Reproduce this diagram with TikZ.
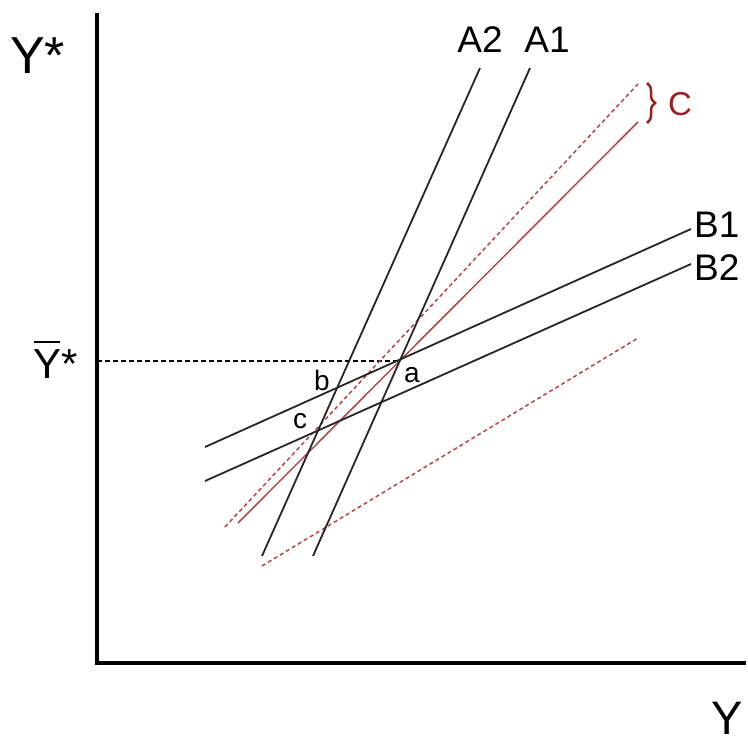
\documentclass[tikz,border=0pt]{standalone}
\usepackage{fontspec}
\setmainfont{Liberation Sans}
\usetikzlibrary{decorations.pathreplacing}
\definecolor{redl}{RGB}{180,70,70}
\definecolor{cred}{RGB}{150,35,35}
\newcommand{\ybarsym}{\makebox[0pt][l]{\hspace{0.02em}\raisebox{0.83em}{\rule{0.62em}{0.05em}}}Y*}
\begin{document}
\begin{tikzpicture}[x=1pt,y=-1pt,
  axis/.style={line width=4pt,line join=miter},
  curve/.style={line width=1.8pt,black!85},
  redsolid/.style={line width=1.5pt,redl},
  reddash/.style={line width=1.5pt,redl,dash pattern=on 4pt off 3pt},
  guide/.style={line width=1.3pt,dash pattern=on 5pt off 3pt},
  big/.style={inner sep=0pt,font=\fontsize{52}{60}\selectfont},
  mid/.style={inner sep=0pt,font=\fontsize{37}{44}\selectfont},
  small/.style={inner sep=0pt,font=\fontsize{28}{34}\selectfont}]
\useasboundingbox (0,0) rectangle (748,742);
% axes
\coordinate (o) at (97,663);
\coordinate (ytop) at (97,13);
\coordinate (xend) at (746,663);
\draw[axis] (ytop) -- (o) -- (xend);
% axis labels
\node[big,anchor=base west] (ylab) at (10,73) {Y*};
\node[big,anchor=base west,font=\fontsize{47}{54}\selectfont] (xlab) at (711,734) {Y};
\node[inner sep=0pt,anchor=base west,font=\fontsize{42}{50}\selectfont] (ybar) at (33,378) {\ybarsym};
% point a and guide
\coordinate (a) at (400,361);
\coordinate (g0) at (97,361);
\draw[guide] (g0) -- (a);
% red lines
\coordinate (rs1) at (238,523); \coordinate (rs2) at (638,122);
\coordinate (ru1) at (225,527); \coordinate (ru2) at (638,84);
\coordinate (rl1) at (262,566); \coordinate (rl2) at (638,338);
\draw[redsolid] (rs1) -- (rs2);
\draw[reddash] (ru1) -- (ru2);
\draw[reddash] (rl1) -- (rl2);
% A curves
\coordinate (a1s) at (313,556); \coordinate (a1e) at (530,68);
\coordinate (a2s) at (262,556); \coordinate (a2e) at (480,68);
\draw[curve] (a1s) -- (a1e);
\draw[curve] (a2s) -- (a2e);
% B curves
\coordinate (b1s) at (205,447); \coordinate (b1e) at (691,229);
\coordinate (b2s) at (205,481); \coordinate (b2e) at (691,264);
\draw[curve] (b1s) -- (b1e);
\draw[curve] (b2s) -- (b2e);
% labels
\node[mid,anchor=base] (la2) at (480,52) {A2};
\node[mid,anchor=base] (la1) at (547,52) {A1};
\node[mid,anchor=base west] (lb1) at (694,237) {B1};
\node[mid,anchor=base west] (lb2) at (694,280) {B2};
\node[small,anchor=base] (pa) at (412,382) {a};
\node[small,anchor=base] (pb) at (322,390) {b};
\node[small,anchor=base] (pc) at (300,428) {c};
% brace and C
\coordinate (br1) at (647,83); \coordinate (br2) at (647,123);
\draw[cred,line width=2.5pt,decorate,decoration={brace,amplitude=8pt}] (br1) -- (br2);
\node[inner sep=0pt,anchor=base west,text=cred,font=\fontsize{33}{40}\selectfont] (lc) at (668,115) {C};
\end{tikzpicture}
\end{document}
